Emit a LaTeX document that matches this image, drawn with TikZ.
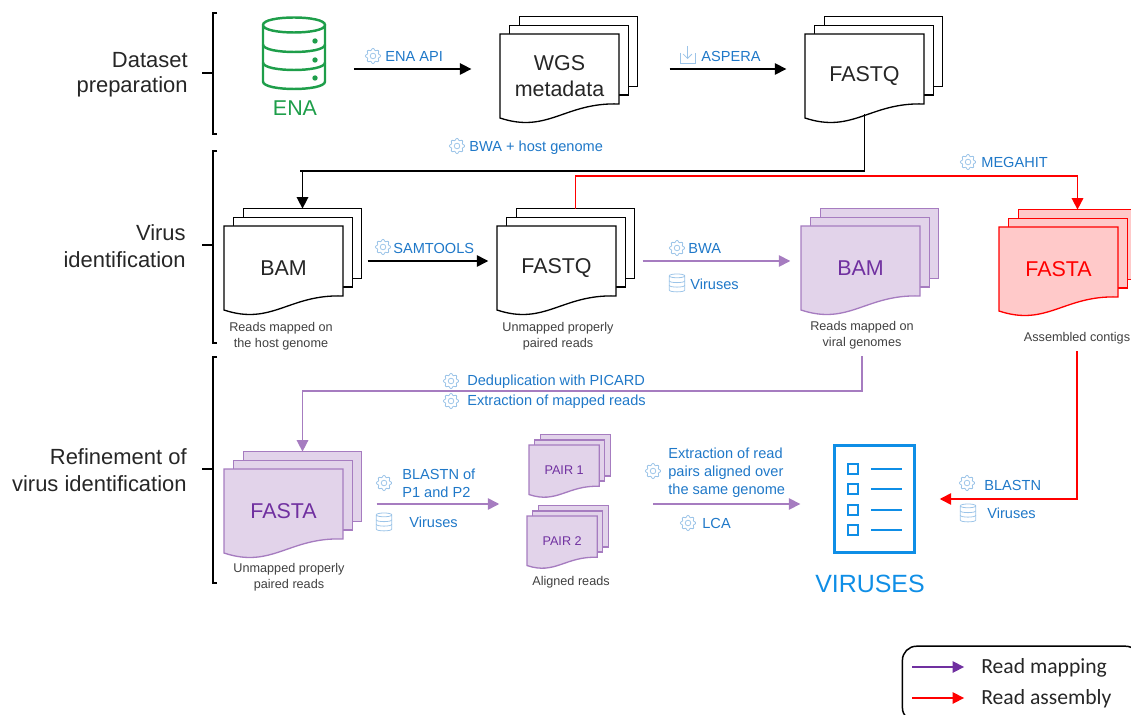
\documentclass[tikz,border=0pt]{standalone}
\usepackage{fontspec}
\setmainfont{Liberation Sans}
\newfontfamily\legendfont{Carlito}
\usetikzlibrary{arrows.meta}

\definecolor{inkblack}{HTML}{262626}
\definecolor{capgray}{HTML}{404040}
\definecolor{stepblue}{HTML}{1F78C8}
\definecolor{iconblue}{HTML}{9CC4E8}
\definecolor{listblue}{HTML}{0F8EE6}
\definecolor{enagreen}{HTML}{1E9E4A}
\definecolor{mappurple}{HTML}{A67CC0}
\definecolor{mapfill}{HTML}{E2D3EA}
\definecolor{maptext}{HTML}{7030A0}
\definecolor{asmred}{HTML}{FF0000}
\definecolor{asmfill}{HTML}{FFC9C9}

\tikzset{
  gap/.style 2 args={shorten <=#1*0.567pt,shorten >=#2*0.567pt},
  blackflow/.style={draw=black,line width=0.85pt,-{Triangle[length=6.5pt,width=6.5pt]}},
  purpleflow/.style={draw=mappurple,line width=0.9pt,-{Triangle[length=6.5pt,width=6.5pt]}},
  redflow/.style={draw=asmred,line width=0.9pt,-{Triangle[length=6.5pt,width=6.5pt]}},
  legendflow/.style={draw=maptext,line width=0.9pt,-{Triangle[length=6.5pt,width=6.5pt]}},
  blacksheet/.style={draw=black,fill=white,text=inkblack},
  purplesheet/.style={draw=mappurple,fill=mapfill,text=maptext},
  redsheet/.style={draw=asmred,fill=asmfill,text=asmred},
  sheetbox/.style={minimum width=67.47pt,minimum height=39.69pt,inner sep=0pt,outer sep=0pt},
  doctext/.style={inner sep=0pt,align=center,font=\fontsize{12.2}{14.7}\selectfont},
  stepname/.style={anchor=west,inner sep=0pt,align=left,text=stepblue,font=\fontsize{8.3}{10.2}\selectfont},
  capname/.style={inner sep=0pt,align=center,text=capgray,font=\fontsize{7.2}{9}\selectfont},
  phasename/.style={anchor=east,inner sep=0pt,align=right,text=inkblack,font=\fontsize{12.5}{14.7}\selectfont},
  bracket/.style={draw=black,line width=0.75pt},
  iconline/.style={draw=iconblue,line width=0.45pt},
  listline/.style={draw=listblue,line width=1.5pt},
  legendname/.style={anchor=west,inner sep=0pt,text=inkblack,font=\legendfont\fontsize{12.3}{14}\selectfont}
}

\newcommand{\docstack}[6]{
  \begin{scope}[shift={(#2,#3)},scale=#4,every node/.append style={transform shape}]
    \node[sheetbox,#5,line width=0.75pt] (#1-back) at (78.5,17.5) {};
    \node[sheetbox,#5,line width=0.75pt] (#1-mid) at (69,26.25) {};
    \draw[#5,line width=0.75pt] (0,0) -- (119,0) -- (119,70) .. controls (65,68) and (48,100) .. (0,84) -- cycle;
    \node[sheetbox] (#1) at (59.5,35) {};
    \node[doctext,#5,draw=none,fill=none] (#1-text) at (59.5,42) {#6};
  \end{scope}
}
\newcommand{\gearicon}[2]{
  \draw[iconline,shift={(#1,#2)}] plot[domain=0:360,samples=73,smooth] ({(6.7+0.9*cos(8*\x))*cos(\x)},{(6.7+0.9*cos(8*\x))*sin(\x)});
  \draw[iconline] (#1,#2) circle[radius=2.8];
}
\newcommand{\dbicon}[4]{
  \begin{scope}[shift={(#1,#2)},scale=#3]
    \draw[#4] (-31,-28.5) .. controls (-31,-18.5) and (31,-18.5) .. (31,-28.5) .. controls (31,-38.5) and (-31,-38.5) .. (-31,-28.5) -- (-31,28) .. controls (-31,38) and (31,38) .. (31,28) -- (31,-28.5);
    \draw[#4] (-31,-9) .. controls (-31,1) and (31,1) .. (31,-9);
    \draw[#4] (-31,9) .. controls (-31,19) and (31,19) .. (31,9);
  \end{scope}
}

\begin{document}
\begin{tikzpicture}[x=0.02cm,y=-0.02cm]
  \useasboundingbox (0,0) rectangle (1131,715);

  \node[phasename] (phase1a) at (188,60) {Dataset};
  \node[phasename] (phase1b) at (188,87) {preparation};
  \node[phasename] (phase2a) at (186,233) {Virus};
  \node[phasename] (phase2b) at (186,260) {identification};
  \node[phasename] (phase3a) at (187,457) {Refinement of};
  \node[phasename] (phase3b) at (187,484) {virus identification};

  \draw[bracket] (217,13) -- (213,13) -- (213,134) -- (217,134); \draw[bracket] (202,73) -- (213,73);
  \draw[bracket] (217,151) -- (213,151) -- (213,343) -- (217,343); \draw[bracket] (202,245) -- (213,245);
  \draw[bracket] (217,357) -- (213,357) -- (213,583) -- (217,583); \draw[bracket] (202,469) -- (213,469);

  \node[sheetbox,minimum width=35.2pt,minimum height=40.3pt] (ena) at (294,53.5) {};
  \dbicon{294}{53.5}{1}{draw=enagreen,line width=1.4pt}
  \foreach \y in {41,60,78} \fill[enagreen] (315,\y) circle[radius=2.7];
  \node[doctext,text=enagreen] (enaname) at (295,108) {ENA};

  \docstack{wgs}{500}{34}{1}{blacksheet}{WGS\\metadata}
  \docstack{fastq1}{805}{34}{1}{blacksheet}{FASTQ}
  \docstack{bam1}{224}{226}{1}{blacksheet}{BAM}
  \docstack{fastq2}{497}{226}{1}{blacksheet}{FASTQ}
  \docstack{bam2}{801}{226}{1}{purplesheet}{BAM}
  \docstack{fasta2}{999}{227}{1}{redsheet}{FASTA}
  \docstack{fasta1}{224}{469}{1}{purplesheet}{FASTA}
  \docstack{pair1}{529}{445}{0.59}{purplesheet}{PAIR 1}
  \docstack{pair2}{527}{516}{0.59}{purplesheet}{PAIR 2}

  \node[capname] (bam1cap) at (281,336) {Reads mapped on\\the host genome};
  \node[capname] (fastq2cap) at (558,336) {Unmapped properly\\paired reads};
  \node[capname] (bam2cap) at (862,335) {Reads mapped on\\viral genomes};
  \node[capname] (fasta2cap) at (1077,338) {Assembled contigs};
  \node[capname] (fasta1cap) at (289,577) {Unmapped properly\\paired reads};
  \node[capname] (pairscap) at (571,582) {Aligned reads};

  \node[draw=listblue,line width=1.6pt,minimum width=45.9pt,minimum height=61.2pt,inner sep=0pt,outer sep=0pt] (viruses) at (874.5,499) {};
  \foreach \y in {469,489,510,530} {
    \draw[listline] (848,\y-5) rectangle (858,\y+5);
    \draw[listline] (871,\y) -- (902,\y);
  }
  \node[inner sep=0pt,text=listblue,font=\fontsize{14.2}{16}\selectfont] (virusname) at (870,584) {VIRUSES};

  \draw[blackflow,gap={29}{29}] (ena.east |- wgs.west) -- (wgs.west);
  \draw[blackflow,gap={51}{19}] (wgs.east) -- (fastq1.west);
  \draw[blackflow,gap={10}{0}] (fastq1.south) |- (300,171) -| (bam1-back.north);
  \draw[blackflow,gap={25}{9}] (bam1.east) -- (fastq2.west);
  \draw[purpleflow,gap={27}{11}] (fastq2.east) -- (bam2.west);
  \draw[redflow] (fastq2-back.north) |- (800,176) -| (fasta2-back.north);
  \draw[purpleflow,gap={7}{0}] (bam2cap.south) |- (500,391) -| (fasta1-back.north);
  \draw[purpleflow,gap={34}{30}] (fasta1.east) -- (pair1.west |- fasta1.east);
  \draw[purpleflow,gap={54}{34}] (pair1.east |- 0,504) -- (viruses.west |- 0,504);
  \draw[redflow,gap={7}{25}] (fasta2cap.south) |- (viruses.east);

  \gearicon{373}{56} \node[stepname] (enaapi) at (385,56) {ENA API};
  \draw[iconline] (680,53) -- (680,63) -- (695,63) -- (695,53); \draw[iconline,-{Straight Barb[length=2.5pt,width=5pt]}] (687.5,46) -- (687.5,59);
  \node[stepname] (aspera) at (701,56) {ASPERA};
  \gearicon{457}{146} \node[stepname] (bwahost) at (469,148) {BWA + host genome};
  \gearicon{968}{162} \node[stepname] (megahit) at (981,162) {MEGAHIT};
  \gearicon{383}{247} \node[stepname] (samtools) at (393,248) {SAMTOOLS};
  \gearicon{677}{248} \node[stepname] (bwa) at (688,248) {BWA};
  \dbicon{677}{283}{0.25}{iconline} \node[stepname] (viruses1) at (690,284) {Viruses};
  \gearicon{451}{381} \node[stepname] (dedup) at (467,382) {Deduplication with PICARD};
  \gearicon{451}{401} \node[stepname] (extract) at (467,402) {Extraction of mapped reads};
  \gearicon{384}{483} \node[stepname] (blastnp) at (402,483) {BLASTN of\\P1 and P2};
  \dbicon{384}{522}{0.25}{iconline} \node[stepname] (viruses2) at (409,522) {Viruses};
  \gearicon{653}{471} \node[stepname] (pairs) at (668,473) {Extraction of read\\pairs aligned over\\the same genome};
  \gearicon{688}{523} \node[stepname] (lca) at (702,523) {LCA};
  \gearicon{967}{483} \node[stepname] (blastn) at (984,485) {BLASTN};
  \dbicon{968}{513}{0.25}{iconline} \node[stepname] (viruses3) at (987,513) {Viruses};

  \node[draw=black,line width=0.85pt,rounded corners=8pt,minimum width=135pt,minimum height=43pt,inner sep=0pt] (legend) at (1021,684) {};
  \node[legendname] (mapping) at (981,668) {Read mapping};
  \node[legendname] (assembly) at (981,699) {Read assembly};
  \coordinate (mapstart) at (912,667);
  \coordinate (asmstart) at (912,698);
  \draw[legendflow,gap={0}{17}] (mapstart) -- (mapping.west |- mapstart);
  \draw[redflow,gap={0}{17}] (asmstart) -- (assembly.west |- asmstart);
\end{tikzpicture}
\end{document}
